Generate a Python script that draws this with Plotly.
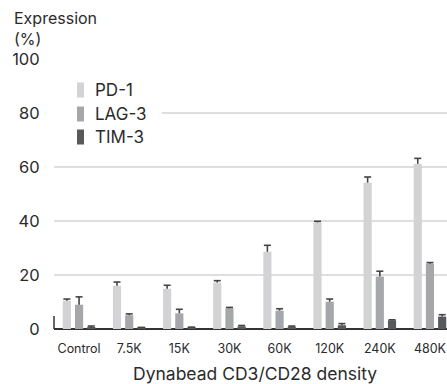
import plotly.graph_objects as go

categories = ["Control", "7.5K", "15K", "30K", "60K", "120K", "240K", "480K"]
series_names = ["PD-1", "LAG-3", "TIM-3"]
pd1 = [10.5, 16.0, 14.9, 17.2, 28.6, 39.5, 54.2, 61.2]
pd1_err = [0.6, 1.4, 1.3, 0.7, 2.4, 0.4, 2.1, 2.0]
lag3 = [9.0, 5.1, 5.8, 7.7, 6.8, 10.1, 19.4, 24.2]
lag3_err = [2.9, 0.5, 1.5, 0.3, 0.7, 1.0, 2.0, 0.4]
tim3 = [0.5, 0.4, 0.5, 1.0, 0.9, 1.4, 3.2, 4.6]
tim3_err = [0.6, 0.2, 0.2, 0.3, 0.2, 0.6, 0.2, 0.7]
y_ticks = [0, 20, 40, 60, 80, 100]

colors = ["#d3d3d5", "#a6a7aa", "#58595b"]
FONT = "Inter"
TXT = "#2b2b2b"
ERR = "#444444"

W, H = 447, 384
ML, MR, MT, MB = 54, 0, 59, 55
PW, PH = W - ML - MR, H - MT - MB


def px(xp):
    return (xp - ML) / PW


def py(yp):
    return 1 - (yp - MT) / PH


xs = list(range(len(categories)))
fig = go.Figure()
for name, vals, errs, col in zip(series_names, [pd1, lag3, tim3],
                                 [pd1_err, lag3_err, tim3_err], colors):
    # bars with error stems (no caps)
    fig.add_trace(go.Bar(
        x=xs, y=vals, name=name, offsetgroup=name,
        marker=dict(color=col, line=dict(width=0)),
        error_y=dict(type="data", array=errs, symmetric=False,
                     arrayminus=[0] * len(errs), color=ERR,
                     thickness=1.6, width=0),
        showlegend=False,
    ))
for name, vals, errs in zip(series_names, [pd1, lag3, tim3],
                            [pd1_err, lag3_err, tim3_err]):
    # caps on the upper end of each error bar
    fig.add_trace(go.Scatter(
        x=xs, y=[v + e for v, e in zip(vals, errs)], mode="markers",
        offsetgroup=name, alignmentgroup="g",
        marker=dict(symbol="line-ew", size=5,
                    line=dict(color=ERR, width=1.6)),
        showlegend=False, hoverinfo="skip",
    ))

shapes = [
    dict(type="rect", xref="paper", yref="paper", layer="above",
         x0=px(ML - 1), x1=px(162), y0=py(120), y1=py(106),
         fillcolor="white", line=dict(width=0)),
    dict(type="line", xref="paper", yref="y", x0=0, x1=0, y0=0, y1=4.8,
         line=dict(color="#333333", width=1.5)),
]
annotations = []
leg_y = [90, 114, 137]
for name, col, yc in zip(series_names, colors, leg_y):
    shapes.append(dict(type="rect", xref="paper", yref="paper", layer="above",
                       x0=px(77), x1=px(84), y0=py(yc + 7.5), y1=py(yc - 7.5),
                       fillcolor=col, line=dict(width=0)))
    annotations.append(dict(text=name, x=px(93), y=py(yc), xref="paper",
                            yref="paper", showarrow=False, xanchor="left",
                            yanchor="middle",
                            font=dict(size=17, family=FONT, color=TXT)))

annotations += [
    dict(text="Expression<br>(%)", x=px(12), y=py(6), xref="paper",
         yref="paper", showarrow=False, align="left", xanchor="left",
         yanchor="top", font=dict(size=16, family=FONT, color=TXT)),
    dict(text="Dynabead CD3/CD28 density", x=3.5, xref="x", y=py(361),
         yref="paper", showarrow=False, xanchor="center", yanchor="top",
         font=dict(size=17.5, family=FONT, color=TXT)),
]

fig.update_layout(
    width=W, height=H,
    margin=dict(l=ML, r=MR, t=MT, b=MB, autoexpand=False),
    paper_bgcolor="white", plot_bgcolor="white",
    barmode="group", bargap=0.27, bargroupgap=0.33,
    scattermode="group", scattergap=0.27,
    font=dict(family=FONT, color=TXT, size=16),
    showlegend=False,
    xaxis=dict(
        range=[-0.5, 7.34], tickmode="array",
        tickvals=xs, ticktext=categories,
        tickfont=dict(size=12.5, family=FONT, color=TXT),
        showgrid=False, showline=False, zeroline=False,
        ticks="outside", ticklen=8, tickcolor="rgba(0,0,0,0)",
    ),
    yaxis=dict(
        range=[0, 100], tickvals=y_ticks,
        tickfont=dict(size=16.5, family=FONT, color=TXT),
        showgrid=True, gridcolor="#dedede", gridwidth=1.5,
        zeroline=True, zerolinecolor="#333333", zerolinewidth=1.5,
        showline=False, ticks="outside", ticklen=10,
        tickcolor="rgba(0,0,0,0)",
    ),
    annotations=annotations,
    shapes=shapes,
)

fig.write_html("out.html")
